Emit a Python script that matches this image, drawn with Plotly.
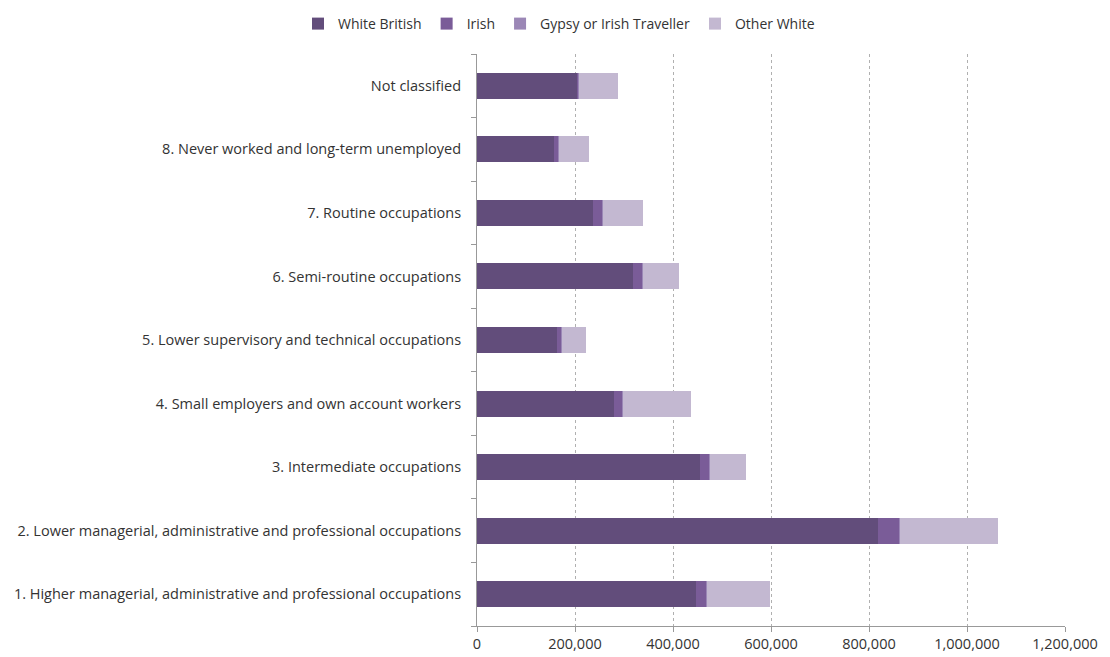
import plotly.graph_objects as go

categories = [
    "1. Higher managerial, administrative and professional occupations",
    "2. Lower managerial, administrative and professional occupations",
    "3. Intermediate occupations",
    "4. Small employers and own account workers",
    "5. Lower supervisory and technical occupations",
    "6. Semi-routine occupations",
    "7. Routine occupations",
    "8. Never worked and long-term unemployed",
    "Not classified",
]
white_british = [447000, 819000, 455000, 280000, 163000, 318000, 237000, 157000, 205000]
irish = [22000, 43000, 19000, 16000, 10000, 19000, 19000, 9000, 3000]
gypsy = [500, 1000, 500, 1500, 1000, 1500, 1500, 1000, 500]
other_white = [129000, 200000, 75000, 140000, 49000, 74000, 82000, 61000, 80000]

series = [
    ("White British", white_british, "#624d7b"),
    ("Irish", irish, "#7a5c98"),
    ("Gypsy or Irish Traveller", gypsy, "#9b87b6"),
    ("Other White", other_white, "#c3b8d1"),
]

fig = go.Figure()
for name, vals, color in series:
    fig.add_trace(go.Bar(
        y=categories, x=vals, name=name, orientation="h",
        marker=dict(color=color, line=dict(width=0)),
    ))

font_family = "Open Sans, Noto Sans, sans-serif"
fig.update_layout(
    barmode="stack",
    bargap=0.59,
    width=1102, height=649,
    margin=dict(l=469, r=45, t=46, b=31, autoexpand=False),
    paper_bgcolor="white", plot_bgcolor="white",
    font=dict(family=font_family, size=14.5, color="#333333"),
    legend=dict(
        orientation="h", xref="container", yref="container",
        x=0.5, xanchor="center", y=1.0, yanchor="top",
        font=dict(size=14, color="#333333"),
        itemwidth=30, traceorder="normal",
    ),
    xaxis=dict(
        range=[0, 1200000], tickvals=[0, 200000, 400000, 600000, 800000, 1000000, 1200000],
        ticktext=["0", "200,000", "400,000", "600,000", "800,000", "1,000,000", "1,200,000"],
        showgrid=True, gridcolor="#b0b0b0", griddash="3px,3px", gridwidth=1,
        showline=True, linecolor="#999999", linewidth=1,
        ticks="outside", ticklen=5, tickcolor="#999999",
        zeroline=False, fixedrange=True, automargin=False,
    ),
    yaxis=dict(
        categoryorder="array", categoryarray=categories,
        showline=True, linecolor="#999999", linewidth=1,
        ticks="outside", ticklen=5, tickcolor="#999999", tickson="boundaries",
        showgrid=False, fixedrange=True, ticklabelstandoff=12, automargin=False,
    ),
)

fig.write_html("out.html")
